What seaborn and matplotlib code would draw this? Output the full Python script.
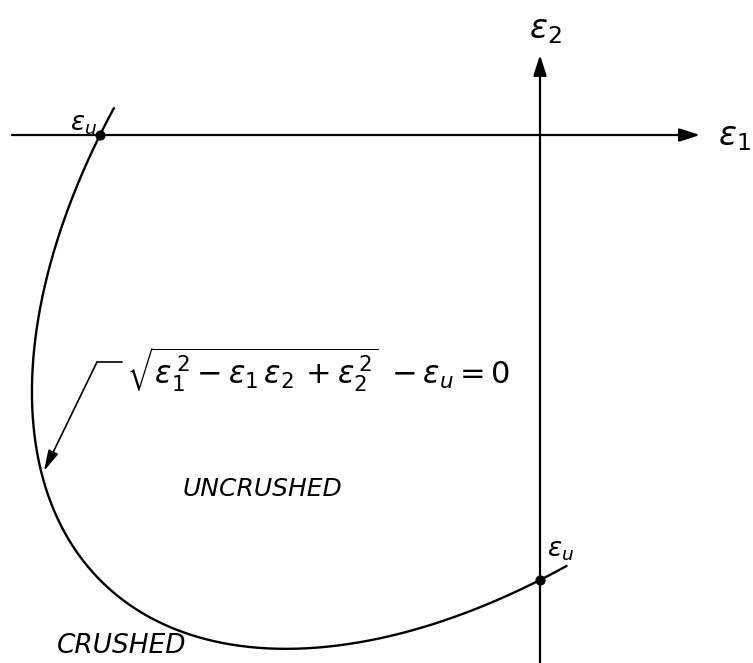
import numpy as np
import pandas as pd
import matplotlib
matplotlib.use("Agg")
import matplotlib.pyplot as plt
import seaborn as sns

# Ultimate strain and the stretch of the crushing surface that is drawn
eps_u = -1.0
t_start_deg = 117.0   # end near (0, eps_u), just past the e2 axis
t_end_deg = 243.0     # end near (eps_u, 0), just above the e1 axis

# Marked points where the surface meets the axes
marked_e1 = [eps_u, 0.0]
marked_e2 = [0.0, eps_u]

# Text on the diagram
axis_labels = [r"$\varepsilon_1$", r"$\varepsilon_2$"]
formula = r"$\sqrt{\varepsilon_1^{\,2}-\varepsilon_1\,\varepsilon_2\,+\varepsilon_2^{\,2}}\;-\varepsilon_u=0$"
region_labels = ["UNCRUSHED", "CRUSHED"]

# Surface  e1^2 - e1 e2 + e2^2 = eps_u^2, written in parametric form
t = np.radians(np.linspace(t_start_deg, t_end_deg, 400))
r = abs(eps_u)
curve = pd.DataFrame({
    "e1": r * (np.cos(t) + np.sin(t) / np.sqrt(3)),
    "e2": r * (np.cos(t) - np.sin(t) / np.sqrt(3)),
})

sns.set_theme(style="white")
plt.rcParams["font.family"] = ["DejaVu Sans"]
plt.rcParams["mathtext.fontset"] = "dejavusans"

fig = plt.figure(figsize=(7.53, 6.63), dpi=100)
ax = fig.add_axes([0, 0, 1, 1])
ax.set_axis_off()

# pixel scale: 440 px per unit in e1, 445 px per unit in e2, origin at (540, 135)
ax.set_xlim(-540 / 440, 213 / 440)
ax.set_ylim(-528 / 445, 135 / 445)


def px(x, y):
    """Convert a position on the sheet to strain coordinates."""
    return (x - 540) / 440, (135 - y) / 445


ink = "black"
arrow = dict(arrowstyle="-|>,head_length=0.62,head_width=0.2", color=ink,
             lw=1.6, shrinkA=0, shrinkB=0, mutation_scale=20)

# e1 axis
ax.annotate("", xy=px(700, 135), xytext=px(12, 135), arrowprops=arrow)
# e2 axis
ax.annotate("", xy=px(540, 55), xytext=px(540, 665), arrowprops=arrow)

ax.text(*px(734, 137), axis_labels[0], fontsize=24, ha="center", va="center", color=ink)
ax.text(*px(545, 30), axis_labels[1], fontsize=24, ha="center", va="center", color=ink)

# crushing surface
sns.lineplot(data=curve, x="e1", y="e2", sort=False, estimator=None,
             color=ink, lw=1.7, ax=ax)

# intersections with the axes
ax.scatter(marked_e1, marked_e2, s=40, color=ink, zorder=5)
ax.text(*px(84, 124), r"$\varepsilon_u$", fontsize=19, ha="center", va="center", color=ink)
ax.text(*px(561, 550), r"$\varepsilon_u$", fontsize=19, ha="center", va="center", color=ink)

# equation with leader to the curve
ax.text(*px(126, 370), formula, fontsize=22, ha="left", va="center", color=ink)
ax.plot(*zip(px(97, 362), px(122, 362)), color=ink, lw=1.2)
ax.annotate("", xy=px(44, 471), xytext=px(97, 362),
            arrowprops=dict(arrowstyle="-|>,head_length=0.7,head_width=0.18", color=ink,
                            lw=1.2, shrinkA=0, shrinkB=0, mutation_scale=18))

ax.text(*px(262, 489), region_labels[0], fontsize=18,
        style="italic", ha="center", va="center", color=ink)
ax.text(*px(122, 646), region_labels[1], fontsize=19,
        style="italic", ha="center", va="center", color=ink)

fig.savefig("out.png", dpi=100, facecolor="white")
